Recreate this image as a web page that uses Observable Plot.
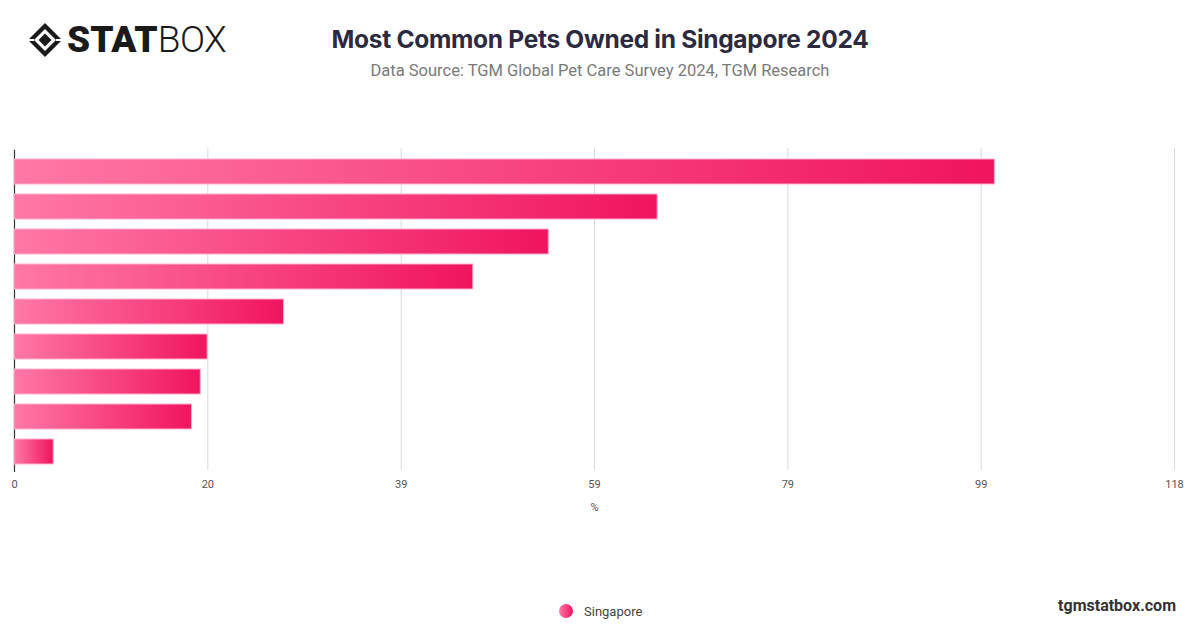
<!DOCTYPE html>
<html>
<head>
<meta charset="utf-8">
<script src="https://cdn.jsdelivr.net/npm/d3@7"></script>
<script src="https://cdn.jsdelivr.net/npm/@observablehq/plot@0.6"></script>
<style>
  html, body { margin: 0; padding: 0; background: #fff; }
  body { width: 1200px; height: 628px; position: relative; overflow: hidden; font-family: Inter, "Liberation Sans", sans-serif; }
  #logo { position: absolute; left: 26px; top: 21px; height: 38px; width: 260px; display: flex; align-items: center; white-space: nowrap; }
  #logo .stat { font-family: Roboto, "DejaVu Sans", sans-serif; font-weight: 900; font-size: 37px; color: #1a1a1a; letter-spacing: 0px; line-height: 38px; }
  #logo .box { font-family: Roboto, "Liberation Sans", sans-serif; font-weight: 300; font-size: 37px; color: #1a1a1a; letter-spacing: -0.5px; line-height: 38px; }
  #title { position: absolute; left: 0; width: 1200px; top: 24px; text-align: center; font-size: 24.5px; font-weight: 700; color: #2b2a40; letter-spacing: -0.3px; }
  #subtitle { position: absolute; left: 0; width: 1200px; top: 61px; text-align: center; font-size: 16.5px; color: #7a7a7a; font-family: Roboto, "Liberation Sans", sans-serif; }
  #chart { position: absolute; left: 0; top: 140px; }
  #legend { position: absolute; left: 557px; top: 602px; display: flex; align-items: center; font-size: 13px; color: #444; font-family: Roboto, "Liberation Sans", sans-serif; }
  #footer { position: absolute; right: 24px; top: 596px; font-size: 16px; font-weight: 700; color: #333; font-family: Roboto, "Liberation Sans", sans-serif; }
</style>
</head>
<body>
<div id="logo">
  <svg width="38" height="38" viewBox="0 0 38 38" style="margin-right:3px">
    <g transform="translate(19,19)">
      <path d="M0,-17 L17,0 L0,17 L-17,0 Z" fill="#1a1a1a"/>
      <path d="M0,-11 L11,0 L0,11 L-11,0 Z" fill="#fff"/>
      <path d="M0,-6.5 L6.5,0 L0,6.5 L-6.5,0 Z" fill="#1a1a1a"/>
      <path d="M-17,0 L-11,0 M17,0 L11,0" stroke="#fff" stroke-width="2"/>
    </g>
  </svg>
  <span class="stat">STAT</span><span class="box">BOX</span>
</div>
<div id="title">Most Common Pets Owned in Singapore 2024</div>
<div id="subtitle">Data Source: TGM Global Pet Care Survey 2024, TGM Research</div>
<div id="chart"></div>
<div id="legend">
  <svg width="18" height="18" style="margin-right:9px">
    <defs>
      <linearGradient id="legGrad" x1="0" x2="1" y1="0" y2="0">
        <stop offset="0" stop-color="#ff78a6"/>
        <stop offset="1" stop-color="#f0145f"/>
      </linearGradient>
    </defs>
    <circle cx="9" cy="9" r="7" fill="url(#legGrad)"/>
  </svg>
  <span>Singapore</span>
</div>
<div id="footer">tgmstatbox.com</div>
<script>
const categories = ["Dog", "Cat", "Fish", "Bird", "Hamster", "Rabbit", "Turtle", "Guinea pig", "Other"];
const values = [100.0, 65.6, 54.5, 46.8, 27.5, 19.7, 19.0, 18.1, 4.0];
const xMax = 118.32;
const tickValues = [0, 19.72, 39.44, 59.16, 78.88, 98.6, 118.32];
const tickLabels = ["0", "20", "39", "59", "79", "99", "118"];

const data = categories.map((c, i) => ({category: c, value: values[i]}));

const plot = Plot.plot({
  width: 1200,
  height: 390,
  marginTop: 12,
  marginBottom: 60,
  marginLeft: 14,
  marginRight: 26,
  style: {fontFamily: "Roboto, 'Liberation Sans', sans-serif", fontSize: "11px", color: "#555"},
  x: {domain: [0, xMax], ticks: tickValues},
  y: {domain: categories, paddingInner: 0.3, paddingOuter: 0.112, axis: null},
  marks: [
    Plot.gridX(tickValues, {stroke: "#d9d9d9", strokeOpacity: 1, insetTop: -4}),
    Plot.ruleX([0], {stroke: "#333", strokeWidth: 1.2, insetTop: -2, insetBottom: -2}),
    Plot.barX(data, {x: "value", y: "category", fill: "url(#barGrad)", stroke: "#ffb0cb", strokeWidth: 1}),
    Plot.axisX(tickValues, {
      tickSize: 0,
      tickPadding: 10,
      tickFormat: (d) => tickLabels[tickValues.indexOf(d)],
      fill: "#555",
      fontSize: 11,
      label: "%",
      labelAnchor: "center",
      labelArrow: "none",
      labelOffset: 40
    })
  ]
});

const ns = "http://www.w3.org/2000/svg";
const defs = document.createElementNS(ns, "defs");
const grad = document.createElementNS(ns, "linearGradient");
grad.setAttribute("id", "barGrad");
grad.setAttribute("x1", "0"); grad.setAttribute("x2", "1");
grad.setAttribute("y1", "0"); grad.setAttribute("y2", "0");
[["0", "#ff78a6"], ["1", "#f0145f"]].forEach(([o, c]) => {
  const s = document.createElementNS(ns, "stop");
  s.setAttribute("offset", o);
  s.setAttribute("stop-color", c);
  grad.appendChild(s);
});
defs.appendChild(grad);
plot.insertBefore(defs, plot.firstChild);

document.getElementById("chart").appendChild(plot);
</script>
</body>
</html>
